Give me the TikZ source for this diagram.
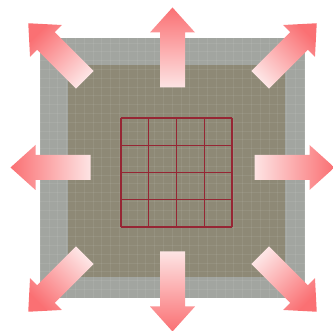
\documentclass[tikz,border=0pt]{standalone}
\usepackage{xcolor}
\usepackage{tikz}
\definecolor{outergray}{RGB}{162,165,160}
\definecolor{innerbrown}{RGB}{142,137,118}
\definecolor{gridred}{RGB}{150,38,52}
\definecolor{tipred}{RGB}{250,112,115}
\definecolor{tailpink}{RGB}{253,228,228}
\tikzset{
  outerbox/.style={fill=outergray, draw=none},
  innerbox/.style={fill=innerbrown, draw=none},
  finegrid/.style={draw=white, opacity=0.07, line width=0.5pt},
  cellgrid/.style={draw=gridred, line width=1.4pt},
  spread/.style={top color=tipred, bottom color=tailpink}
}
\begin{document}
\begin{tikzpicture}[x=1pt, y=1pt]
\useasboundingbox (0,0) rectangle (333,331);
\coordinate (c) at (172.5,163.5);

% background squares
\fill[outerbox] (40,33) rectangle (305,293);
\fill[innerbox] (68,54) rectangle (285,266);
\begin{scope}
  \clip (40,33) rectangle (305,293);
  \foreach \k in {0,...,30}{
    \draw[finegrid] (40+\k*8.8,33) -- (40+\k*8.8,293);
    \draw[finegrid] (40,33+\k*8.8) -- (305,33+\k*8.8);
  }
\end{scope}

% 4x4 grid
\foreach \i in {0,...,4}{
  \draw[cellgrid] (121+\i*27.75,104) -- (121+\i*27.75,213);
  \draw[cellgrid] (121,104+\i*27.25) -- (232,104+\i*27.25);
}

% arrows pointing outwards
\foreach \ang/\rin in {0/82,90/80,180/82,270/84,45/124,135/124,225/124,315/124}{
  \pgfmathsetmacro\shang{\ang-90}
  \shade[spread, shading angle=\shang, shift={(c)}, rotate=\ang]
    (\rin,-12.5) -- ++(55,0) -- ++(0,-10) -- ++(25,22.5) -- ++(-25,22.5)
    -- ++(0,-10) -- ++(-55,0) -- cycle;
}
\end{tikzpicture}
\end{document}
